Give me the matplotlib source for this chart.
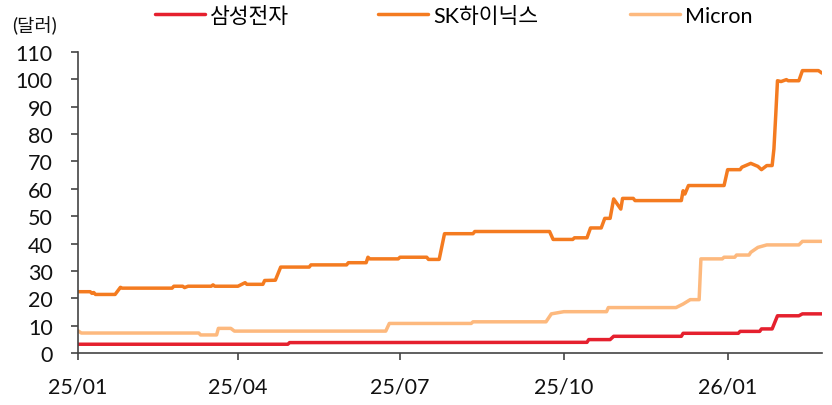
import matplotlib
matplotlib.use('Agg')
import matplotlib.pyplot as plt
import matplotlib.dates as mdates
import pandas as pd

plt.rcParams['font.family'] = ['Lato', 'Noto Sans CJK KR', 'DejaVu Sans']

# 주가 (달러), 읽어낸 변곡점
samsung_dates = ['2025-01-01', '2025-04-29', '2025-04-30', '2025-10-14', '2025-10-15',
                 '2025-10-27', '2025-10-29', '2025-12-06', '2025-12-07', '2026-01-07',
                 '2026-01-08', '2026-01-19', '2026-01-20', '2026-01-26', '2026-01-29',
                 '2026-02-10', '2026-02-12', '2026-02-23']
samsung_vals = [3.2, 3.2, 3.8, 3.9, 4.9,
                4.9, 6.1, 6.1, 7.2, 7.2,
                7.9, 7.9, 8.8, 8.8, 13.6,
                13.6, 14.3, 14.3]

hynix_dates = ['2025-01-01', '2025-01-08', '2025-01-09', '2025-01-10', '2025-01-11',
               '2025-01-22', '2025-01-25', '2025-01-26', '2025-02-23', '2025-02-24',
               '2025-03-01', '2025-03-02', '2025-03-04', '2025-03-17', '2025-03-18',
               '2025-03-19', '2025-04-01', '2025-04-05', '2025-04-06', '2025-04-15',
               '2025-04-16', '2025-04-22', '2025-04-25', '2025-05-11', '2025-05-12',
               '2025-06-01', '2025-06-02', '2025-06-12', '2025-06-13', '2025-06-14',
               '2025-06-30', '2025-07-01', '2025-07-16', '2025-07-17', '2025-07-23',
               '2025-07-26', '2025-08-11', '2025-08-12', '2025-09-23', '2025-09-25',
               '2025-10-06', '2025-10-07', '2025-10-14', '2025-10-16', '2025-10-22',
               '2025-10-24', '2025-10-27', '2025-10-29', '2025-11-02', '2025-11-03',
               '2025-11-09', '2025-11-10', '2025-12-06', '2025-12-07', '2025-12-08',
               '2025-12-10', '2025-12-30', '2026-01-01', '2026-01-08', '2026-01-09',
               '2026-01-14', '2026-01-18', '2026-01-20', '2026-01-23', '2026-01-26',
               '2026-01-27', '2026-01-28', '2026-01-29', '2026-01-31', '2026-02-03',
               '2026-02-04', '2026-02-10', '2026-02-12', '2026-02-21', '2026-02-23']
hynix_vals = [22.4, 22.4, 21.8, 22.1, 21.4,
              21.4, 24.0, 23.7, 23.7, 24.4,
              24.4, 23.9, 24.4, 24.4, 24.9,
              24.4, 24.4, 25.7, 25.1, 25.1,
              26.5, 26.6, 31.4, 31.4, 32.2,
              32.2, 33.0, 33.0, 35.0, 34.4,
              34.4, 35.0, 35.0, 34.2, 34.2,
              43.6, 43.6, 44.4, 44.4, 41.5,
              41.5, 42.1, 42.1, 45.7, 45.7,
              49.2, 49.2, 56.3, 52.6, 56.5,
              56.5, 55.7, 55.7, 59.3, 58.1,
              61.2, 61.2, 67.0, 67.0, 67.9,
              69.3, 68.2, 67.0, 68.5, 68.5,
              74.6, 86.7, 99.5, 99.2, 99.9,
              99.5, 99.5, 103.2, 103.2, 102.3]

micron_dates = ['2025-01-01', '2025-01-03', '2025-03-10', '2025-03-11', '2025-03-20',
                '2025-03-21', '2025-03-28', '2025-03-30', '2025-06-23', '2025-06-25',
                '2025-08-10', '2025-08-11', '2025-09-21', '2025-09-24', '2025-10-01',
                '2025-10-25', '2025-10-26', '2025-12-03', '2025-12-07', '2025-12-11',
                '2025-12-16', '2025-12-17', '2025-12-29', '2025-12-30', '2026-01-05',
                '2026-01-06', '2026-01-13', '2026-01-14', '2026-01-18', '2026-01-23',
                '2026-02-10', '2026-02-12', '2026-02-23']
micron_vals = [8.2, 7.3, 7.3, 6.6, 6.6,
               9.0, 9.0, 8.0, 8.0, 10.8,
               10.8, 11.4, 11.4, 14.3, 15.1,
               15.1, 16.6, 16.6, 17.9, 19.5,
               19.5, 34.4, 34.4, 35.0, 35.0,
               35.8, 35.8, 36.8, 38.6, 39.5,
               39.5, 40.8, 40.8]

series_names = ['삼성전자', 'SK하이닉스', 'Micron']
series_colors = ['#E5202E', '#F47B20', '#FDB97E']

xticks = ['2025-01-01', '2025-04-01', '2025-07-01', '2025-10-01', '2026-01-01']
yticks = [0, 10, 20, 30, 40, 50, 60, 70, 80, 90, 100, 110]

fig = plt.figure(figsize=(8.32, 4.06), dpi=100)
ax = fig.add_axes([77.7 / 832, 52 / 406, (822 - 77.7) / 832, (354 - 53) / 406])

all_data = [(samsung_dates, samsung_vals), (hynix_dates, hynix_vals), (micron_dates, micron_vals)]
lines = []
for (d, v), name, c in zip(all_data, series_names, series_colors):
    ln, = ax.plot(pd.to_datetime(d), v, color=c, linewidth=2.5, label=name,
                  solid_joinstyle='round', solid_capstyle='round')
    lines.append(ln)

ax.set_xlim(pd.Timestamp('2025-01-01'), pd.Timestamp('2026-02-23'))
ax.set_ylim(0, 110)
ax.set_yticks(yticks)
ax.set_xticks(pd.to_datetime(xticks))
ax.xaxis.set_major_formatter(mdates.DateFormatter('%y/%m'))

for s in ['top', 'right']:
    ax.spines[s].set_visible(False)
for s in ['left', 'bottom']:
    ax.spines[s].set_color('#444444')
    ax.spines[s].set_linewidth(1.2)

ax.tick_params(axis='both', direction='out', length=5, width=1.2, color='#444444',
               labelsize=15.5, labelcolor='#111111')
ax.tick_params(axis='y', pad=13)
ax.tick_params(axis='x', pad=12)

fig.text(12 / 832, 1 - 26 / 406, '(달러)', fontsize=13.5, va='center', ha='left', color='#111111')

# 범례: 항목마다 따로 배치
legend_x = [155, 378, 630]
for ln, name, lx in zip(lines, series_names, legend_x):
    fig.legend(handles=[ln], labels=[name], loc='center left',
               bbox_to_anchor=(lx / 832, 1 - 17 / 406), frameon=False, fontsize=15.5,
               handlelength=2.3, handletextpad=0.25, borderpad=0, borderaxespad=0)

fig.savefig('out.png', dpi=100)
